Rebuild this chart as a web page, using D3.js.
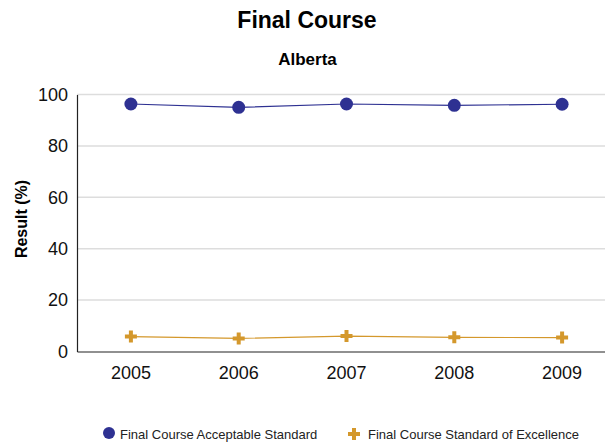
<!DOCTYPE html>
<html>
<head>
<meta charset="utf-8">
<script src="https://cdn.jsdelivr.net/npm/d3@7"></script>
<style>
  body { margin: 0; background: #fff; }
  text { font-family: "Liberation Sans", Arial, sans-serif; }
</style>
</head>
<body>
<div id="chart"></div>
<script>
// data
var years = ["2005", "2006", "2007", "2008", "2009"];
var acceptable = [96.3, 95.0, 96.3, 95.8, 96.2];
var excellence = [5.8, 5.1, 6.0, 5.5, 5.4];
var yTicks = [0, 20, 40, 60, 80, 100];

var seriesNames = ["Final Course Acceptable Standard", "Final Course Standard of Excellence"];
var blue = "#2e3192";
var gold = "#d4982c";

var width = 605, height = 444;
var plotLeft = 77, plotRight = 616, plotTop = 94.5, plotBottom = 351.5;

var svg = d3.select("#chart").append("svg")
    .attr("width", width)
    .attr("height", height);

svg.append("text")
    .attr("x", 307).attr("y", 28)
    .attr("text-anchor", "middle")
    .attr("font-size", 23).attr("font-weight", "bold")
    .text("Final Course");

svg.append("text")
    .attr("x", 307.5).attr("y", 65)
    .attr("text-anchor", "middle")
    .attr("font-size", 17).attr("font-weight", "bold")
    .text("Alberta");

var x = d3.scaleBand().domain(years).range([plotLeft, plotRight]);
var y = d3.scaleLinear().domain([0, 100]).range([plotBottom, plotTop]);

// gridlines
svg.append("g")
    .selectAll("line")
    .data(yTicks.filter(function(d) { return d > 0; }))
    .enter().append("line")
    .attr("x1", plotLeft).attr("x2", width)
    .attr("y1", function(d) { return y(d); })
    .attr("y2", function(d) { return y(d); })
    .attr("stroke", "#dddddd")
    .attr("stroke-width", 1.5);

// y axis
var yAxis = svg.append("g")
    .attr("transform", "translate(" + plotLeft + ",0)")
    .call(d3.axisLeft(y).tickValues(yTicks).tickSize(0).tickPadding(9));
yAxis.select(".domain").attr("stroke", "#222").attr("stroke-width", 1.2);
yAxis.selectAll("text").attr("font-size", 18).attr("fill", "#111")
    .attr("font-family", "Liberation Sans, Arial, sans-serif");

// x axis
var xAxis = svg.append("g")
    .attr("transform", "translate(0," + plotBottom + ")")
    .call(d3.axisBottom(x).tickSize(0).tickPadding(15));
xAxis.select(".domain").attr("stroke", "#222").attr("stroke-width", 1.2);
xAxis.selectAll("text").attr("font-size", 18).attr("fill", "#111")
    .attr("font-family", "Liberation Sans, Arial, sans-serif");

svg.append("text")
    .attr("transform", "translate(27,219) rotate(-90)")
    .attr("text-anchor", "middle")
    .attr("font-size", 16).attr("font-weight", "bold")
    .text("Result (%)");

var cx = function(d, i) { return x(years[i]) + x.bandwidth() / 2; };

var line = d3.line()
    .x(function(d, i) { return cx(d, i); })
    .y(function(d) { return y(d); });

svg.append("path").datum(acceptable)
    .attr("d", line)
    .attr("fill", "none").attr("stroke", blue).attr("stroke-width", 1.2);

svg.append("path").datum(excellence)
    .attr("d", line)
    .attr("fill", "none").attr("stroke", gold).attr("stroke-width", 1.2);

svg.append("g").selectAll("circle")
    .data(acceptable)
    .enter().append("circle")
    .attr("cx", cx)
    .attr("cy", function(d) { return y(d); })
    .attr("r", 6.5)
    .attr("fill", blue);

var plus = d3.symbol().type(d3.symbolCross).size(80);
svg.append("g").selectAll("path")
    .data(excellence)
    .enter().append("path")
    .attr("d", plus)
    .attr("transform", function(d, i) { return "translate(" + cx(d, i) + "," + y(d) + ")"; })
    .attr("fill", gold);

// legend
var legend = svg.append("g");
legend.append("circle")
    .attr("cx", 109).attr("cy", 433).attr("r", 6).attr("fill", blue);
legend.append("text")
    .attr("x", 120).attr("y", 439)
    .attr("font-size", 13).attr("fill", "#222")
    .text(seriesNames[0]);
legend.append("path")
    .attr("d", plus)
    .attr("transform", "translate(354,434)")
    .attr("fill", gold);
legend.append("text")
    .attr("x", 368).attr("y", 439)
    .attr("font-size", 13).attr("fill", "#222")
    .text(seriesNames[1]);
</script>
</body>
</html>
